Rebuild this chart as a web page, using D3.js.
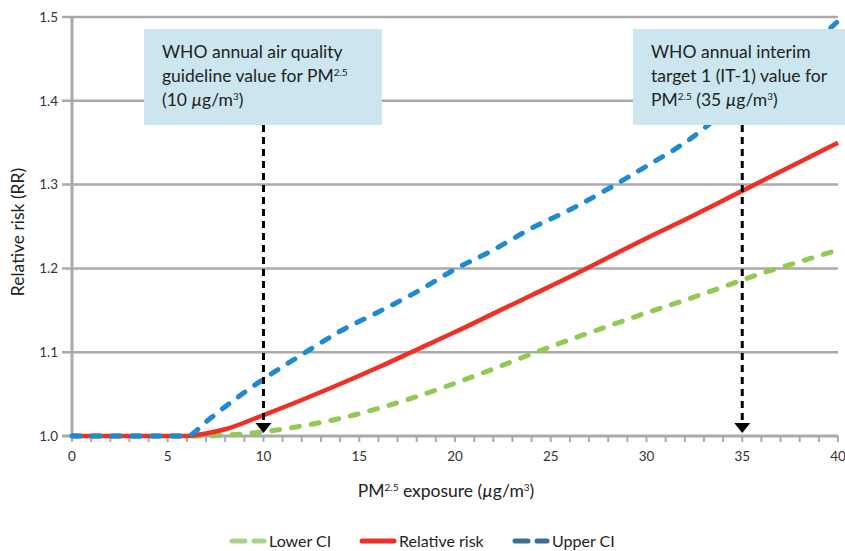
<!DOCTYPE html>
<html>
<head>
<meta charset="utf-8">
<script src="https://cdn.jsdelivr.net/npm/d3@7"></script>
<style>
  body { margin: 0; background: #fff; }
  svg { font-family: Lato, "Open Sans", sans-serif; }
</style>
</head>
<body>
<svg id="chart" width="845" height="551"></svg>
<script>
// exposure values (µg/m3) shared by all series
const exposure = [0, 6, 7, 8, 10, 12, 14, 16, 18, 20, 22, 24, 26, 28, 30, 32, 34, 36, 38, 40];
const lowerCI = [1.0, 1.0, 1.0, 1.001, 1.005, 1.012, 1.021, 1.033, 1.047, 1.063, 1.08, 1.098, 1.115, 1.131, 1.147, 1.162, 1.178, 1.194, 1.208, 1.222];
const relRisk = [1.0, 1.0, 1.003, 1.008, 1.025, 1.043, 1.062, 1.082, 1.103, 1.124, 1.146, 1.168, 1.19, 1.213, 1.236, 1.258, 1.281, 1.304, 1.327, 1.35];
const upperCI = [1.0, 1.0, 1.017, 1.035, 1.068, 1.097, 1.125, 1.148, 1.172, 1.199, 1.222, 1.248, 1.27, 1.295, 1.322, 1.35, 1.385, 1.42, 1.455, 1.495];
const yTicks = [1.0, 1.1, 1.2, 1.3, 1.4, 1.5];
const xTicks = [0, 5, 10, 15, 20, 25, 30, 35, 40];
const markers = [10, 35];

const svg = d3.select('#chart');
const x = d3.scaleLinear().domain([0, 40]).range([72, 838]);
const y = d3.scaleLinear().domain([1.0, 1.5]).range([436, 17]);
const grey = '#aaaaaa';

// writes text parts, 's' = superscript, 'i' = italic
function richText(sel, parts, supSize) {
    let lift = 0;
    parts.forEach(p => {
        let [txt, kind] = Array.isArray(p) ? p : [p, ''];
        let ts = sel.append('tspan').text(txt);
        if (kind === 's') {
            ts.attr('dy', -6).style('font-size', supSize);
            lift = 6;
        } else {
            if (lift) ts.attr('dy', lift);
            lift = 0;
            if (kind === 'i') ts.style('font-style', 'italic');
        }
    });
}

// gridlines + y labels
let grid = svg.append('g');
grid.selectAll('line')
    .data(yTicks.slice(1))
    .enter().append('line')
        .attr('x1', 62).attr('x2', 838)
        .attr('y1', d => y(d)).attr('y2', d => y(d))
        .style('stroke', grey)
        .style('stroke-width', 2.5);

grid.selectAll('text')
    .data(yTicks)
    .enter().append('text')
        .attr('x', 58)
        .attr('y', d => y(d))
        .attr('dy', '0.35em')
        .attr('text-anchor', 'end')
        .style('font-size', '13.5px')
        .style('fill', '#333')
        .text(d => d.toFixed(1));

// y axis line
svg.append('line')
    .attr('x1', 72).attr('x2', 72)
    .attr('y1', y(1.5)).attr('y2', y(1.0))
    .style('stroke', grey).style('stroke-width', 3);

// x axis
let xAxis = svg.append('g');
xAxis.selectAll('.minor')
    .data(d3.range(0, 41))
    .enter().append('line')
        .attr('x1', d => x(d)).attr('x2', d => x(d))
        .attr('y1', 436).attr('y2', 442)
        .style('stroke', grey).style('stroke-width', 2);
xAxis.append('line')
    .attr('x1', 62).attr('x2', 838)
    .attr('y1', 436).attr('y2', 436)
    .style('stroke', grey).style('stroke-width', 3);
xAxis.selectAll('text')
    .data(xTicks)
    .enter().append('text')
        .attr('x', d => x(d))
        .attr('y', 456)
        .attr('dy', '0.35em')
        .attr('text-anchor', 'middle')
        .style('font-size', '13.5px')
        .style('fill', '#333')
        .text(d => d);

// series
const line = d3.line()
    .x((d, i) => x(exposure[i]))
    .y(d => y(d))
    .curve(d3.curveMonotoneX);

const series = [
    {key: 'Lower CI', values: lowerCI, color: '#92c954', legend: '#a8d38c', dash: true},
    {key: 'Relative risk', values: relRisk, color: '#ee3124', legend: '#ee3124', dash: false},
    {key: 'Upper CI', values: upperCI, color: '#1e8ad2', legend: '#3e6d9d', dash: true}
];

svg.append('g').selectAll('path')
    .data(series)
    .enter().append('path')
        .attr('d', d => line(d.values))
        .style('fill', 'none')
        .style('stroke', d => d.color)
        .style('stroke-width', d => d.dash ? 5 : 4.5)
        .style('stroke-linecap', d => d.dash ? 'round' : 'butt')
        .style('stroke-dasharray', d => d.dash ? '8 12' : null);

// marker arrows
let arrows = svg.append('g');
arrows.selectAll('line')
    .data(markers)
    .enter().append('line')
        .attr('x1', d => x(d)).attr('x2', d => x(d))
        .attr('y1', 125).attr('y2', 424)
        .style('stroke', '#000')
        .style('stroke-width', 3)
        .style('stroke-dasharray', '7 5');
arrows.selectAll('path')
    .data(markers)
    .enter().append('path')
        .attr('d', d => `M${x(d) - 8},423 L${x(d) + 8},423 L${x(d)},433 Z`)
        .style('fill', '#000');

// annotation boxes
const boxes = [
    {x: 144, w: 238, lines: [['WHO annual air quality'], ['guideline value for PM', ['2.5', 's']], ['(10 ', ['µ', 'i'], 'g/m', ['3', 's'], ')']]},
    {x: 633, w: 212, lines: [['WHO annual interim'], ['target 1 (IT-1) value for'], ['PM', ['2.5', 's'], ' (35 ', ['µ', 'i'], 'g/m', ['3', 's'], ')']]}
];

boxes.forEach(b => {
    let g = svg.append('g');
    g.append('rect')
        .attr('x', b.x).attr('y', 29)
        .attr('width', b.w).attr('height', 96)
        .style('fill', '#cbe6ee');
    b.lines.forEach((parts, li) => {
        let t = g.append('text')
            .attr('x', b.x + 18)
            .attr('y', 58 + li * 24)
            .style('font-size', '17.5px')
            .style('fill', '#222');
        richText(t, parts, '10px');
    });
});

// axis titles
svg.append('text')
    .attr('transform', 'translate(24, 232) rotate(-90)')
    .attr('text-anchor', 'middle')
    .style('font-size', '17.5px')
    .style('fill', '#222')
    .text('Relative risk (RR)');

let xt = svg.append('text')
    .attr('x', 446).attr('y', 497)
    .attr('text-anchor', 'middle')
    .style('font-size', '17.5px')
    .style('fill', '#222');
richText(xt, ['PM', ['2.5', 's'], ' exposure (', ['µ', 'i'], 'g/m', ['3', 's'], ')'], '10px');

// legend
const legendX = [232, 362, 515];
let legend = svg.append('g').selectAll('g')
    .data(series)
    .enter().append('g')
        .attr('transform', (d, i) => `translate(${legendX[i]}, 541)`);
legend.append('line')
    .attr('x1', 0).attr('x2', 32)
    .style('stroke', d => d.legend)
    .style('stroke-width', 5)
    .style('stroke-linecap', 'round')
    .style('stroke-dasharray', d => d.dash ? '13 9' : null);
legend.append('text')
    .attr('x', 37)
    .attr('dy', '0.35em')
    .style('font-size', '16px')
    .style('fill', '#222')
    .text(d => d.key);
</script>
</body>
</html>
